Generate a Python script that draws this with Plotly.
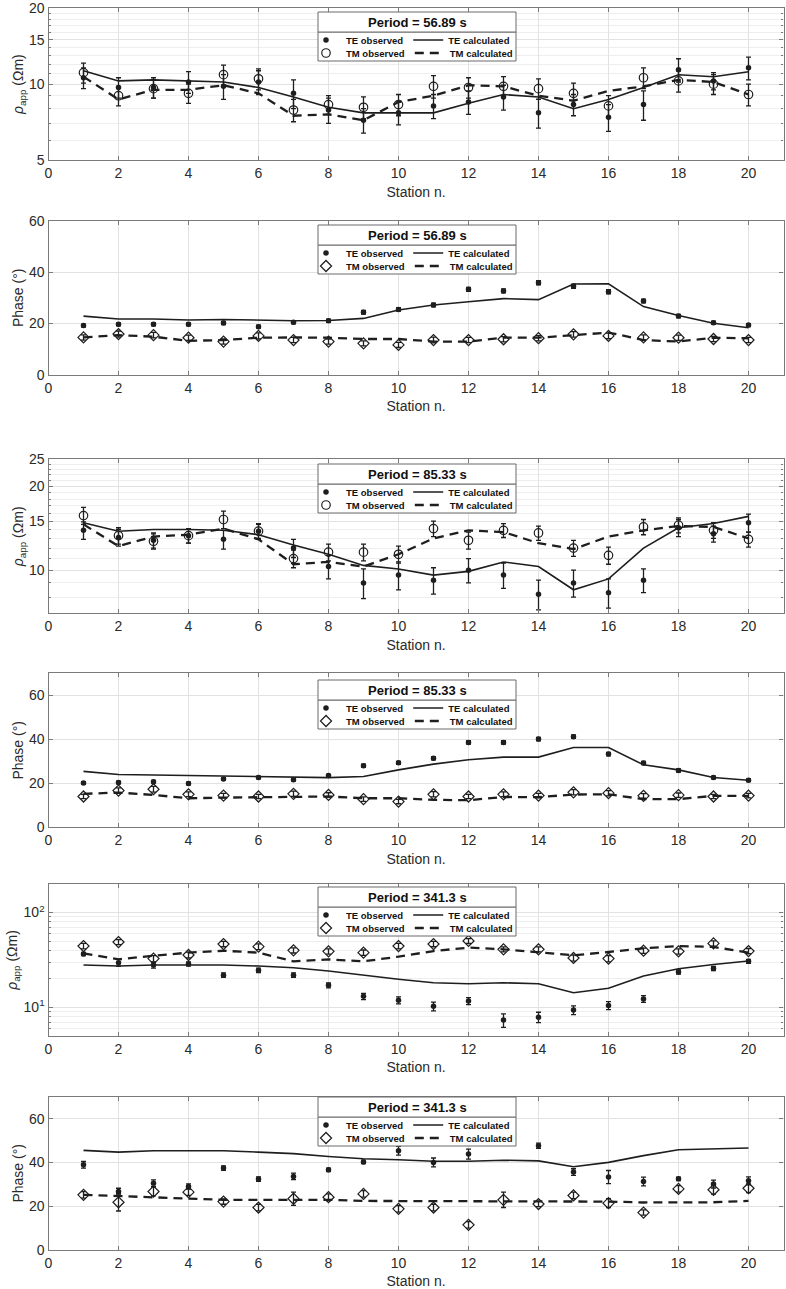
import math
import plotly.graph_objects as go

W, H = 786, 1289
FONT = "Liberation Sans, Arial, sans-serif"

stations = list(range(1, 21))
x_ticks = list(range(0, 21, 2))

periods = ["56.89", "56.89", "85.33", "85.33", "341.3", "341.3"]

# ---- Panel 1: apparent resistivity, T = 56.89 s
rho1_te_obs = [10.6, 9.7, 9.7, 10.2, 9.8, 10.2, 9.2, 7.9, 7.2, 7.7, 8.2, 8.5, 8.9, 7.7, 8.3, 7.4, 8.3, 11.4, 10.3, 11.6]
rho1_te_err = [1.0, 0.9, 0.9, 1.0, 1.1, 1.1, 1.2, 0.9, 0.8, 0.8, 0.9, 0.9, 1.0, 1.0, 0.8, 0.9, 1.1, 1.2, 0.8, 1.2]
rho1_te_cal = [11.3, 10.3, 10.4, 10.3, 10.2, 9.7, 8.9, 8.1, 7.7, 7.7, 7.7, 8.4, 9.1, 8.9, 8.0, 8.7, 9.7, 10.9, 10.7, 11.2]
rho1_tm_obs = [11.1, 9.0, 9.6, 9.2, 10.9, 10.5, 7.9, 8.3, 8.1, 8.3, 9.8, 9.7, 9.8, 9.6, 9.2, 8.2, 10.6, 10.3, 10.0, 9.1]
rho1_tm_err = [1.0, 0.8, 0.8, 0.8, 1.0, 1.0, 0.8, 0.7, 0.8, 0.8, 1.0, 0.9, 0.9, 0.9, 0.9, 0.8, 1.0, 1.0, 0.9, 0.9]
rho1_tm_cal = [10.7, 8.7, 9.5, 9.5, 9.9, 9.2, 7.5, 7.6, 7.2, 8.5, 9.0, 9.9, 9.8, 9.0, 8.6, 9.4, 9.8, 10.4, 10.2, 9.1]

# ---- Panel 2: phase, T = 56.89 s
ph1_te_obs = [19.2, 19.7, 19.7, 19.7, 20.2, 18.8, 20.5, 21.1, 24.4, 25.5, 27.2, 33.3, 32.7, 35.9, 34.5, 32.4, 28.8, 22.9, 20.3, 19.4]
ph1_te_err = [0.6, 0.6, 0.6, 0.6, 0.6, 0.6, 0.6, 0.6, 0.7, 0.7, 0.7, 0.8, 0.8, 0.8, 0.8, 0.8, 0.7, 0.7, 0.6, 0.6]
ph1_te_cal = [22.9, 21.8, 21.8, 21.4, 21.6, 21.4, 21.1, 21.2, 22.0, 25.3, 27.2, 28.5, 29.7, 29.3, 35.4, 35.5, 26.6, 23.1, 20.1, 18.4]
ph1_tm_obs = [14.6, 15.9, 15.5, 14.5, 13.0, 15.2, 13.6, 13.0, 12.3, 11.7, 13.6, 13.6, 13.9, 14.3, 15.8, 15.2, 14.6, 14.5, 14.0, 13.6]
ph1_tm_err = [1.0, 1.2, 1.1, 1.0, 1.0, 1.2, 1.0, 1.0, 1.0, 1.0, 1.1, 1.0, 1.0, 1.0, 1.1, 1.1, 1.0, 1.0, 1.0, 1.0]
ph1_tm_cal = [14.6, 15.5, 14.9, 13.3, 13.6, 14.5, 14.6, 14.5, 14.0, 14.0, 13.0, 13.0, 14.5, 14.5, 15.5, 16.5, 13.6, 13.0, 14.5, 14.3]

# ---- Panel 3: apparent resistivity, T = 85.33 s
rho2_te_obs = [13.9, 13.1, 12.8, 13.3, 12.9, 13.8, 12.0, 10.3, 9.0, 9.6, 9.2, 10.0, 9.6, 8.2, 9.0, 8.3, 9.2, 14.2, 13.5, 14.8]
rho2_te_err = [1.0, 0.9, 0.8, 0.8, 1.0, 0.8, 0.9, 1.0, 1.1, 1.1, 1.0, 1.0, 1.0, 1.0, 1.0, 1.0, 0.9, 1.0, 0.9, 1.1]
rho2_te_cal = [14.8, 13.8, 14.0, 14.0, 13.9, 13.4, 12.3, 11.4, 10.4, 10.1, 9.6, 9.9, 10.7, 10.3, 8.5, 9.3, 12.0, 14.2, 14.7, 15.6]
rho2_tm_obs = [15.7, 13.3, 12.7, 13.3, 15.2, 13.8, 11.0, 11.6, 11.6, 11.4, 14.1, 12.8, 13.9, 13.6, 12.0, 11.3, 14.3, 14.5, 13.9, 12.9]
rho2_tm_err = [1.1, 0.9, 0.8, 0.8, 1.1, 0.9, 0.8, 0.8, 0.8, 0.8, 0.9, 0.9, 0.8, 0.8, 0.8, 0.8, 0.9, 0.9, 0.9, 0.8]
rho2_tm_cal = [14.6, 12.2, 13.2, 13.4, 14.1, 12.9, 10.5, 10.7, 10.3, 11.4, 13.0, 13.9, 13.7, 12.5, 11.9, 13.2, 13.9, 14.4, 14.3, 13.0]

# ---- Panel 4: phase, T = 85.33 s
ph2_te_obs = [20.1, 20.4, 20.7, 19.9, 22.0, 22.6, 21.6, 23.5, 28.0, 29.3, 31.4, 38.6, 38.6, 40.1, 41.2, 33.3, 29.2, 25.8, 22.6, 21.4]
ph2_te_err = [0.6, 0.6, 0.6, 0.6, 0.6, 0.6, 0.6, 0.6, 0.7, 0.7, 0.7, 0.8, 0.8, 0.8, 0.8, 0.8, 0.7, 0.7, 0.6, 0.6]
ph2_te_cal = [25.4, 24.0, 23.8, 23.5, 23.4, 23.1, 22.6, 22.6, 23.1, 26.1, 28.7, 30.7, 31.9, 31.9, 36.3, 36.3, 28.4, 26.1, 22.6, 21.4]
ph2_tm_obs = [14.0, 16.7, 17.3, 15.0, 14.4, 14.0, 15.2, 14.7, 12.8, 11.7, 15.0, 14.0, 15.0, 14.4, 15.9, 15.5, 14.3, 14.6, 14.0, 14.4]
ph2_tm_err = [1.0, 1.2, 1.3, 1.1, 1.0, 1.0, 1.2, 1.0, 1.0, 1.0, 1.2, 1.0, 1.1, 1.0, 1.2, 1.2, 1.0, 1.0, 1.0, 1.0]
ph2_tm_cal = [15.2, 15.8, 14.7, 13.2, 13.5, 13.7, 14.0, 14.0, 13.2, 13.2, 12.5, 12.3, 13.8, 13.7, 14.9, 15.0, 12.8, 12.8, 14.3, 14.3]

# ---- Panel 5: apparent resistivity, T = 341.3 s
rho3_te_obs = [36.6, 29.6, 28.0, 28.7, 21.9, 24.6, 21.9, 17.1, 13.1, 11.9, 10.3, 11.7, 7.35, 7.9, 9.4, 10.5, 12.3, 23.6, 25.8, 30.6]
rho3_te_err = [1.5, 2.5, 2.0, 1.5, 1.2, 1.3, 1.2, 1.0, 1.0, 1.0, 1.1, 1.0, 1.2, 1.0, 1.0, 1.0, 1.0, 1.2, 1.3, 1.5]
rho3_te_cal = [28.0, 27.3, 28.0, 28.0, 28.0, 27.3, 26.2, 24.2, 21.8, 19.8, 18.2, 17.8, 18.2, 17.8, 14.3, 15.9, 21.4, 25.6, 28.4, 30.9]
rho3_tm_obs = [44.4, 48.9, 32.7, 35.7, 46.6, 43.7, 40.0, 39.0, 37.8, 44.4, 46.6, 50.2, 41.0, 41.0, 33.2, 32.7, 39.6, 39.0, 47.3, 39.3]
rho3_tm_err = [3.0, 3.0, 2.5, 2.5, 3.0, 3.0, 2.5, 2.5, 2.5, 3.0, 3.0, 3.0, 2.5, 2.5, 2.5, 2.5, 2.5, 2.5, 3.0, 2.5]
rho3_tm_cal = [37.2, 32.1, 35.1, 37.8, 39.6, 37.8, 30.6, 32.1, 30.6, 34.3, 39.3, 42.7, 41.0, 38.4, 35.4, 38.4, 42.0, 44.4, 43.4, 37.8]

# ---- Panel 6: phase, T = 341.3 s
ph3_te_obs = [38.9, 26.7, 30.5, 29.0, 37.4, 32.4, 33.6, 36.6, 40.2, 45.3, 40.0, 43.8, None, 47.6, 35.6, 33.3, 31.3, 32.5, 30.1, 31.6]
ph3_te_err = [1.5, 1.5, 1.5, 1.2, 1.0, 1.0, 1.5, 0.8, 0.8, 2.0, 2.0, 2.3, 0.0, 1.2, 1.5, 3.0, 2.0, 0.8, 1.8, 1.8]
ph3_te_cal = [45.5, 44.7, 45.3, 45.3, 45.3, 44.7, 44.0, 42.7, 41.7, 41.2, 40.5, 40.5, 41.0, 40.7, 38.0, 40.0, 43.1, 45.8, 46.3, 46.6]
ph3_tm_obs = [25.2, 21.8, 26.7, 26.4, 22.1, 19.4, 23.4, 24.1, 25.6, 18.8, 19.4, 11.5, 22.9, 21.0, 24.9, 21.4, 17.1, 27.9, 27.5, 28.2]
ph3_tm_err = [1.5, 4.0, 2.0, 1.5, 1.2, 1.5, 3.0, 1.5, 1.5, 1.5, 1.5, 1.5, 3.5, 1.2, 1.5, 2.0, 1.2, 1.5, 2.0, 2.0]
ph3_tm_cal = [25.2, 24.7, 24.0, 23.4, 22.9, 22.9, 22.9, 22.9, 22.4, 22.4, 22.1, 22.1, 22.4, 22.4, 22.4, 22.1, 21.7, 21.7, 21.8, 22.4]

# ---- axis tick settings
rho1_ticks = [5, 10, 15, 20]
rho1_minor = [6, 7, 8, 9, 11, 12, 13, 14, 16, 17, 18, 19]
rho2_ticks = [10, 15, 20, 25]
rho2_minor = [8, 9, 11, 12, 13, 14, 16, 17, 18, 19, 21, 22, 23, 24]
rho3_ticks = [10, 100]
rho3_ticktext = ["10<sup>1</sup>", "10<sup>2</sup>"]
rho3_minor = [6, 7, 8, 9, 20, 30, 40, 50, 60, 70, 80, 90]
phase1_ticks = [0, 20, 40, 60]
phase2_ticks = [0, 20, 40, 60]

panels = [
    dict(kind="rho", te=(rho1_te_obs, rho1_te_err, rho1_te_cal), tm=(rho1_tm_obs, rho1_tm_err, rho1_tm_cal),
         yrange=(5, 20), ticks=rho1_ticks, ticktext=None, minor=rho1_minor, tmsym="circle-open"),
    dict(kind="phase", te=(ph1_te_obs, ph1_te_err, ph1_te_cal), tm=(ph1_tm_obs, ph1_tm_err, ph1_tm_cal),
         yrange=(0, 60), ticks=phase1_ticks, ticktext=None, minor=None, tmsym="diamond-open"),
    dict(kind="rho", te=(rho2_te_obs, rho2_te_err, rho2_te_cal), tm=(rho2_tm_obs, rho2_tm_err, rho2_tm_cal),
         yrange=(7, 25), ticks=rho2_ticks, ticktext=None, minor=rho2_minor, tmsym="circle-open"),
    dict(kind="phase", te=(ph2_te_obs, ph2_te_err, ph2_te_cal), tm=(ph2_tm_obs, ph2_tm_err, ph2_tm_cal),
         yrange=(0, 70), ticks=phase2_ticks, ticktext=None, minor=None, tmsym="diamond-open"),
    dict(kind="rho", te=(rho3_te_obs, rho3_te_err, rho3_te_cal), tm=(rho3_tm_obs, rho3_tm_err, rho3_tm_cal),
         yrange=(5, 200), ticks=rho3_ticks, ticktext=rho3_ticktext, minor=rho3_minor, tmsym="diamond-open"),
    dict(kind="phase", te=(ph3_te_obs, ph3_te_err, ph3_te_cal), tm=(ph3_tm_obs, ph3_tm_err, ph3_tm_cal),
         yrange=(0, 70), ticks=phase2_ticks, ticktext=None, minor=None, tmsym="diamond-open"),
]

# ---- geometry (window pixels; page margin removed below)
PLOT_L, PLOT_R = 48.5, 783.5
tops = [8, 220.7, 459.3, 673.3, 884, 1096.7]
bottoms = [160.3, 375, 613.3, 827.3, 1036, 1250]
box_tops = [12, 225, 464, 680, 887, 1097]
BOX_L, BOX_R = 318, 516
TITLE_H, ENTRY_H = 20, 29
LEG_X0 = 306


def fy(p):
    return 1 - p / H


def fx(p):
    return p / W


AX_COL = "#7a7a7a"
GRID = "#e2e2e2"
MINOR = "#eeeeee"
INK = "#1e1e1e"
TXT = "#2a2a2a"

fig = go.Figure()
layout = {}
shapes = []
annotations = []

for i, pn in enumerate(panels):
    k = i + 1
    sfx = "" if k == 1 else str(k)
    xa, ya = "x" + sfx, "y" + sfx
    legA = "legend" + ("" if k == 1 else str(2 * k - 1))
    legB = "legend" + str(2 * k)
    te_obs, te_err, te_cal = pn["te"]
    tm_obs, tm_err, tm_cal = pn["tm"]

    fig.add_trace(go.Scatter(x=stations, y=te_cal, mode="lines", name="TE calculated",
                             line=dict(color=INK, width=1.6), xaxis=xa, yaxis=ya,
                             legend=legA, legendrank=2))
    fig.add_trace(go.Scatter(x=stations, y=tm_cal, mode="lines", name="TM calculated",
                             line=dict(color=INK, width=2.3, dash="9px,6px"), xaxis=xa, yaxis=ya,
                             legend=legB, legendrank=2))
    fig.add_trace(go.Scatter(x=stations, y=te_obs, mode="markers", name="TE observed",
                             marker=dict(symbol="circle", size=5.5, color=INK),
                             error_y=dict(type="data", array=te_err, color=INK, thickness=1.3, width=2.5),
                             xaxis=xa, yaxis=ya, legend=legA, legendrank=1))
    fig.add_trace(go.Scatter(x=stations, y=tm_obs, mode="markers", name="TM observed",
                             marker=dict(symbol=pn["tmsym"], size=8.5, color=INK, line=dict(width=1.2, color=INK)),
                             error_y=dict(type="data", array=tm_err, color=INK, thickness=1.3, width=2.5),
                             xaxis=xa, yaxis=ya, legend=legB, legendrank=1))

    layout["xaxis" + sfx] = dict(
        domain=[fx(PLOT_L), fx(PLOT_R)], anchor=ya, range=[0, 21],
        tickvals=x_ticks, showgrid=True, gridcolor=GRID, gridwidth=1, zeroline=False,
        showline=True, linecolor=AX_COL, linewidth=1.2, mirror="ticks",
        ticks="inside", ticklen=4, tickcolor=AX_COL,
        tickfont=dict(size=14, color=TXT, family=FONT),
        title=dict(text="Station n.", font=dict(size=14, color=TXT, family=FONT), standoff=6),
        automargin=False,
    )
    yax = dict(
        domain=[fy(bottoms[i]), fy(tops[i])], anchor=xa,
        tickvals=pn["ticks"], showgrid=True, gridcolor=GRID, gridwidth=1, zeroline=False,
        showline=True, linecolor=AX_COL, linewidth=1.2, mirror="ticks",
        ticks="inside", ticklen=4, tickcolor=AX_COL, ticklabeloverflow="allow",
        tickfont=dict(size=14, color=TXT, family=FONT),
        automargin=False,
    )
    if pn["ticktext"] is not None:
        yax["ticktext"] = pn["ticktext"]
    if pn["kind"] == "rho":
        yax["type"] = "log"
        yax["range"] = [math.log10(pn["yrange"][0]) - 1e-4, math.log10(pn["yrange"][1]) + 1e-4]
        yax["title"] = dict(text="<i>ρ</i><sub>app</sub> (Ωm)",
                            font=dict(size=14, color=TXT, family=FONT), standoff=2)
        yax["minor"] = dict(tickvals=pn["minor"], showgrid=True, gridcolor=MINOR,
                            ticks="inside", ticklen=2, tickcolor=AX_COL)
    else:
        yax["range"] = list(pn["yrange"])
        yax["title"] = dict(text="Phase (°)", font=dict(size=14, color=TXT, family=FONT), standoff=2)
    layout["yaxis" + sfx] = yax

    bt = box_tops[i]
    shapes.append(dict(type="rect", xref="paper", yref="paper", layer="above",
                       x0=fx(BOX_L), x1=fx(BOX_R), y0=fy(bt + TITLE_H + ENTRY_H), y1=fy(bt + TITLE_H),
                       fillcolor="white", line=dict(color="#6a6a6a", width=1)))
    shapes.append(dict(type="rect", xref="paper", yref="paper", layer="above",
                       x0=fx(BOX_L), x1=fx(BOX_R), y0=fy(bt + TITLE_H), y1=fy(bt),
                       fillcolor="white", line=dict(color="#6a6a6a", width=1)))
    annotations.append(dict(xref="paper", yref="paper", x=fx((BOX_L + BOX_R) / 2), y=fy(bt + TITLE_H / 2),
                            text="<b>Period = %s s</b>" % periods[i], showarrow=False,
                            xanchor="center", yanchor="middle",
                            font=dict(size=13, color="#111", family=FONT)))
    for leg, row_c in ((legA, bt + TITLE_H + 8), (legB, bt + TITLE_H + 21)):
        layout[leg] = dict(orientation="h", x=fx(LEG_X0), xanchor="left", y=fy(row_c), yanchor="middle",
                           bgcolor="rgba(0,0,0,0)", borderwidth=0,
                           font=dict(size=9.5, color="#111", family=FONT, weight="bold"),
                           traceorder="normal", itemclick=False, itemdoubleclick=False)

fig.update_layout(
    width=W, height=H, margin=dict(l=0, r=0, t=0, b=0),
    paper_bgcolor="white", plot_bgcolor="white",
    font=dict(family=FONT, color=TXT),
    showlegend=True, shapes=shapes, annotations=annotations, **layout,
)

fig.write_html("out.html", config={"displayModeBar": False},
               post_script="document.body.style.margin='0';document.body.style.padding='0';")
